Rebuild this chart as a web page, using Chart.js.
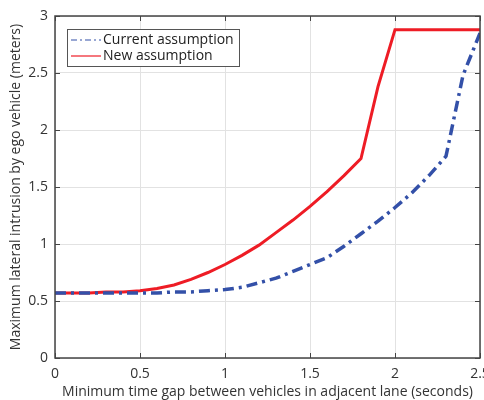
<!DOCTYPE html>
<html>
<head>
<meta charset="utf-8">
<script src="https://cdn.jsdelivr.net/npm/chart.js@4/dist/chart.umd.min.js"></script>
<style>
  html, body { margin: 0; padding: 0; background: #fff; }
  #wrap { width: 484px; height: 400px; }
</style>
</head>
<body>
<div id="wrap"><canvas id="chart" width="484" height="400"></canvas></div>
<script>
// time gap (s)
let timeGap = [0, 0.1, 0.2, 0.3, 0.4, 0.5, 0.6, 0.7, 0.8, 0.9, 1.0, 1.1, 1.2, 1.3,
    1.4, 1.5, 1.6, 1.7, 1.8, 1.9, 2.0, 2.1, 2.2, 2.3, 2.4, 2.5];
let currentAssumption = [0.57, 0.57, 0.57, 0.57, 0.57, 0.57, 0.57, 0.58, 0.58, 0.59, 0.60, 0.62, 0.66, 0.70,
    0.76, 0.82, 0.88, 0.98, 1.09, 1.20, 1.32, 1.45, 1.60, 1.77, 2.48, 2.85];
let newAssumption = [0.57, 0.57, 0.57, 0.58, 0.58, 0.59, 0.61, 0.64, 0.69, 0.75, 0.82, 0.90, 0.99, 1.10,
    1.21, 1.33, 1.46, 1.60, 1.75, 2.38, 2.88, 2.88, 2.88, 2.88, 2.88, 2.88];
let seriesNames = ['Current assumption', 'New assumption'];
let xTitle = 'Minimum time gap between vehicles in adjacent lane (seconds)';
let yTitle = 'Maximum lateral intrusion by ego vehicle (meters)';

const FONT = "'Open Sans', 'Noto Sans', sans-serif";
const AXIS = '#444';

function toPoints(ys) {
    return timeGap.map((x, i) => ({ x: x, y: ys[i] }));
}

// 1.0 -> "1", 0.5 -> "0.5"
function tickText(v) {
    return String(+v.toFixed(2));
}

// box round the plot + inward ticks on all four sides (matlab style)
const boxPlugin = {
    id: 'box',
    afterDatasetsDraw(chart) {
        let ctx = chart.ctx, a = chart.chartArea;
        let xs = chart.scales.x, ys = chart.scales.y;
        ctx.save();
        ctx.strokeStyle = AXIS;
        ctx.lineWidth = 1;
        xs.ticks.forEach(t => {
            let px = Math.round(xs.getPixelForValue(t.value)) + 0.5;
            ctx.beginPath();
            ctx.moveTo(px, a.bottom); ctx.lineTo(px, a.bottom - 5);
            ctx.moveTo(px, a.top); ctx.lineTo(px, a.top + 5);
            ctx.stroke();
        });
        ys.ticks.forEach(t => {
            let py = Math.round(ys.getPixelForValue(t.value)) + 0.5;
            ctx.beginPath();
            ctx.moveTo(a.left, py); ctx.lineTo(a.left + 5, py);
            ctx.moveTo(a.right, py); ctx.lineTo(a.right - 5, py);
            ctx.stroke();
        });
        ctx.lineWidth = 1.5;
        ctx.strokeRect(a.left, a.top, a.right - a.left, a.bottom - a.top);
        ctx.restore();
    }
};

// legend box in upper left of the axes
const legendPlugin = {
    id: 'boxLegend',
    afterDraw(chart) {
        let ctx = chart.ctx, a = chart.chartArea;
        let x0 = a.left + 12, y0 = a.top + 13, w = 172, h = 37;
        ctx.save();
        ctx.fillStyle = '#fff';
        ctx.fillRect(x0, y0, w, h);
        ctx.strokeStyle = '#555';
        ctx.lineWidth = 1;
        ctx.strokeRect(x0 + 0.5, y0 + 0.5, w, h);
        ctx.font = '14px ' + FONT;
        ctx.textBaseline = 'middle';
        chart.data.datasets.forEach((ds, i) => {
            let ly = y0 + 11 + i * 16;
            ctx.strokeStyle = ds.borderColor;
            ctx.lineWidth = 1.2;
            ctx.setLineDash(ds.borderDash ? [6, 3, 2, 3] : []);
            ctx.beginPath();
            ctx.moveTo(x0 + 4, ly); ctx.lineTo(x0 + 34, ly);
            ctx.stroke();
            ctx.setLineDash([]);
            ctx.fillStyle = '#222';
            ctx.fillText(ds.label, x0 + 36, ly);
        });
        ctx.restore();
    }
};

let ctx = document.getElementById('chart').getContext('2d');
let chart = new Chart(ctx, {
    type: 'line',
    data: {
        datasets: [
            {
                label: seriesNames[0],
                data: toPoints(currentAssumption),
                borderColor: '#3350a8',
                borderWidth: 3.5,
                borderDash: [11, 5, 3, 5],
                pointRadius: 0,
                tension: 0
            },
            {
                label: seriesNames[1],
                data: toPoints(newAssumption),
                borderColor: '#ee1c25',
                borderWidth: 3,
                pointRadius: 0,
                tension: 0
            }
        ]
    },
    options: {
        responsive: false,
        animation: false,
        layout: { padding: { top: 16, right: 4, left: 8, bottom: 0 } },
        plugins: {
            legend: { display: false },
            tooltip: { enabled: false }
        },
        scales: {
            x: {
                type: 'linear',
                min: 0,
                max: 2.5,
                ticks: { stepSize: 0.5, color: '#333', font: { family: FONT, size: 14 }, padding: 8, maxRotation: 0, callback: tickText },
                grid: { color: '#e2e2e2', drawTicks: false, lineWidth: 1 },
                border: { display: false },
                title: { display: true, text: xTitle, color: '#333', font: { family: FONT, size: 14 }, padding: { top: 0, bottom: 0 } },
                afterFit(scale) { scale.height = 42; scale.paddingLeft = 0; scale.paddingRight = 0; }
            },
            y: {
                min: 0,
                max: 3,
                ticks: { stepSize: 0.5, color: '#333', font: { family: FONT, size: 14 }, padding: 7, callback: tickText },
                grid: { color: '#e2e2e2', drawTicks: false, lineWidth: 1 },
                border: { display: false },
                title: { display: true, text: yTitle, color: '#333', font: { family: FONT, size: 14 }, padding: { top: 0, bottom: 0 } },
                afterFit(scale) { scale.width = 47; scale.paddingTop = 0; scale.paddingBottom = 0; }
            }
        }
    },
    plugins: [boxPlugin, legendPlugin]
});
</script>
</body>
</html>
